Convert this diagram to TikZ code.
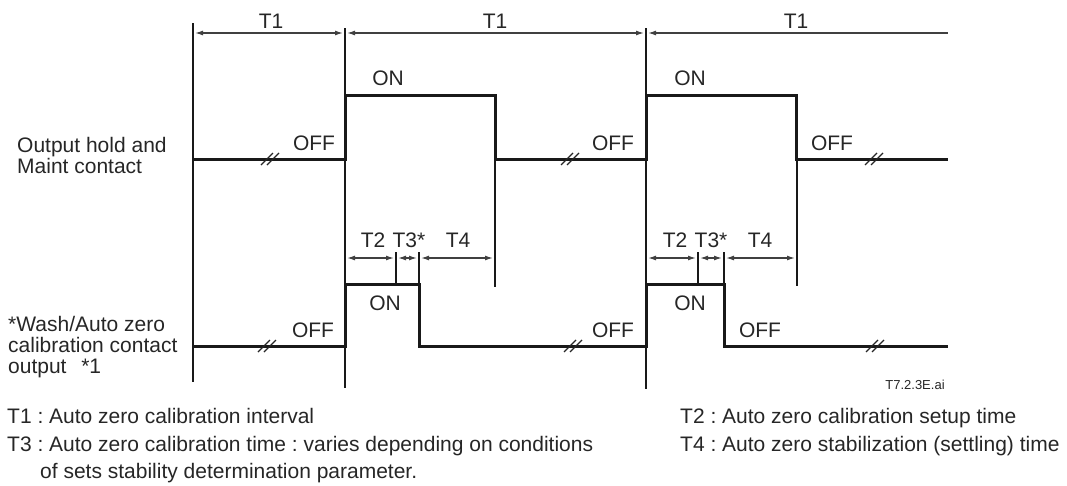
\documentclass[tikz,border=0pt]{standalone}
\usepackage{fontspec}
\setmainfont{Liberation Sans}
\usetikzlibrary{arrows.meta}
\tikzset{
  tdsig/.style={line width=3pt, line join=miter, draw=black!90},
  tdline/.style={line width=1.4pt, draw=black!90},
  tddim/.style={line width=1.3pt, draw=black!75, shorten <=2pt, shorten >=2pt},
  tdlab/.style={font=\fontsize{21}{21}\selectfont, text=black!85, inner sep=0pt},
  tdsmall/.style={font=\fontsize{13}{13}\selectfont, text=black!85, inner sep=0pt},
  tdbrk/.pic={\draw[line width=1.1pt, black!85] (-9,6) -- (3,-6) (-3,6) -- (9,-6);}
}

\begin{document}
\frenchspacing
\begin{tikzpicture}[x=1pt,y=-1pt,>={Latex[length=8pt,width=5pt]}]
  \useasboundingbox (0,0) rectangle (1067,485);
  % row labels
  \node[tdlab, anchor=base west, align=left] (hold) at (17,173) {Output hold and\\Maint contact};
  \node[tdlab, anchor=base west, align=left] (wash) at (8,373) {*Wash/Auto zero\\calibration contact\\output\hspace{0.7em}*1};
  % time marks
  \draw[tdline] (193,23) -- (193,382);
  \draw[tdline] (345,28) -- (345,388);
  \draw[tdline] (646,28) -- (646,389);
  \draw[tdline] (495,159) -- (495,287);
  \draw[tdline] (797,159) -- (797,286);
  \draw[tdline] (396,252) -- (396,284);
  \draw[tdline] (419,252) -- (419,284);
  \draw[tdline] (698,252) -- (698,284);
  \draw[tdline] (724,252) -- (724,284);
  % T1 intervals
  \coordinate (i0) at (193,33);
  \coordinate (i1) at (345,33);
  \coordinate (i2) at (646,33);
  \coordinate (i3) at (948,33);
  \draw[tddim, <->] (i0) -- (i1);
  \draw[tddim, <->] (i1) -- (i2);
  \draw[tddim, <-, shorten >=0pt] (i2) -- (i3);
  \node[tdlab, anchor=base] (ta) at (271,28) {T1};
  \node[tdlab, anchor=base] (tb) at (495,28) {T1};
  \node[tdlab, anchor=base] (tc) at (796,28) {T1};
  % output hold signal
  \draw[tdsig] (193,159) -- (345,159) -- (345,95) -- (495,95) -- (495,159)
    -- (646,159) -- (646,95) -- (796,95) -- (796,159) -- (948,159);
  \pic at (270,159) {tdbrk};
  \pic at (570,159) {tdbrk};
  \pic at (874,159) {tdbrk};
  \node[tdlab, anchor=base] (off1) at (314,150) {OFF};
  \node[tdlab, anchor=base] (on1) at (388,85) {ON};
  \node[tdlab, anchor=base] (off2) at (613,150) {OFF};
  \node[tdlab, anchor=base] (on2) at (690,85) {ON};
  \node[tdlab, anchor=base] (off3) at (832,150) {OFF};
  % T2, T3, T4
  \coordinate (s0) at (345,258);
  \coordinate (s1) at (396,258);
  \coordinate (s2) at (419,258);
  \coordinate (s3) at (495,258);
  \coordinate (u0) at (646,258);
  \coordinate (u1) at (698,258);
  \coordinate (u2) at (724,258);
  \coordinate (u3) at (797,258);
  \draw[tddim, <->] (s0) -- (s1);
  \draw[tddim, <->] (s1) -- (s2);
  \draw[tddim, <->] (s2) -- (s3);
  \draw[tddim, <->] (u0) -- (u1);
  \draw[tddim, <->] (u1) -- (u2);
  \draw[tddim, <->] (u2) -- (u3);
  \node[tdlab, anchor=base] (sa) at (373,247) {T2};
  \node[tdlab, anchor=base] (sb) at (409,247) {T3*};
  \node[tdlab, anchor=base] (sc) at (458,247) {T4};
  \node[tdlab, anchor=base] (ua) at (675,247) {T2};
  \node[tdlab, anchor=base] (ub) at (711,247) {T3*};
  \node[tdlab, anchor=base] (uc) at (760,247) {T4};
  % wash / auto zero signal
  \draw[tdsig] (193,346) -- (345,346) -- (345,284) -- (419,284) -- (419,346)
    -- (646,346) -- (646,284) -- (724,284) -- (724,346) -- (948,346);
  \pic at (267,346) {tdbrk};
  \pic at (573,346) {tdbrk};
  \pic at (875,346) {tdbrk};
  \node[tdlab, anchor=base] (woff1) at (313,337) {OFF};
  \node[tdlab, anchor=base] (won1) at (385,310) {ON};
  \node[tdlab, anchor=base] (woff2) at (613,337) {OFF};
  \node[tdlab, anchor=base] (won2) at (690,310) {ON};
  \node[tdlab, anchor=base] (woff3) at (760,337) {OFF};
  \node[tdsmall, anchor=base] (fig) at (915,389) {T7.2.3E.ai};
  % legend
  \node[tdlab, anchor=base west] (n1) at (7,423) {T1 : Auto zero calibration interval};
  \node[tdlab, anchor=base west] (n3) at (7,451) {T3 : Auto zero calibration time : varies depending on conditions};
  \node[tdlab, anchor=base west] (n3b) at (40,478) {of sets stability determination parameter.};
  \node[tdlab, anchor=base west] (n2) at (680,423) {T2 : Auto zero calibration setup time};
  \node[tdlab, anchor=base west] (n4) at (680,451) {T4 : Auto zero stabilization (settling) time};
\end{tikzpicture}
\end{document}
